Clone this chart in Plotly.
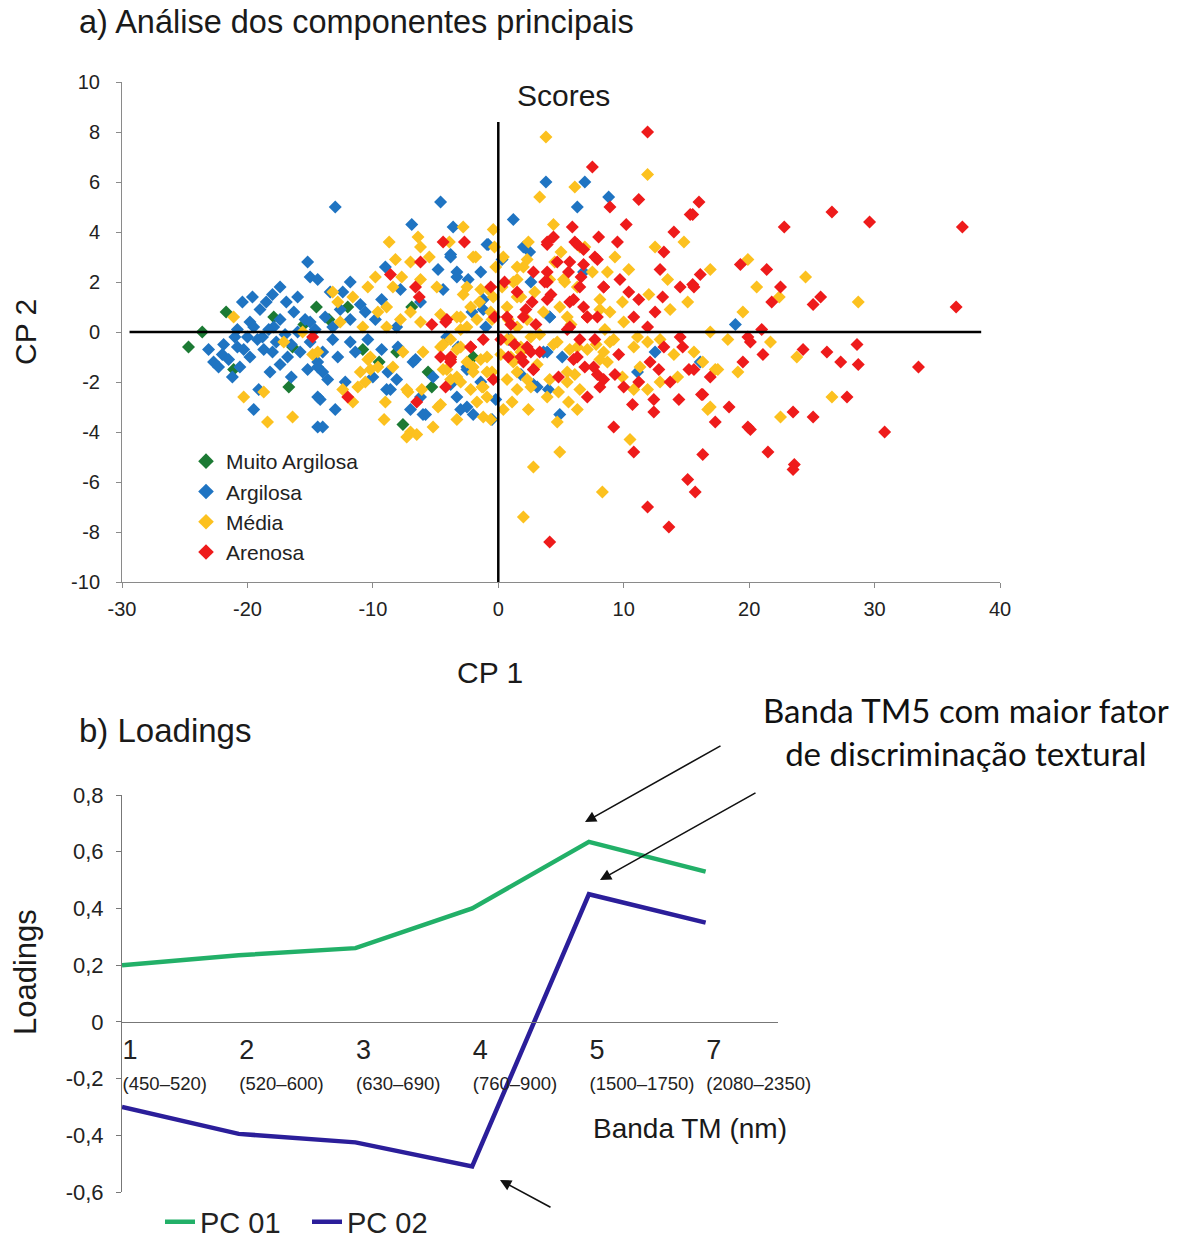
import plotly.graph_objects as go

W, H = 1186, 1239
def px(x): return x / W
def py(y): return 1 - y / H

# ---------------- data: scores ----------------
muito_x = [-24.7, -23.6, -21.7, -21.1, -17.9, -16.7, -16.4, -14.5, -12.0, -10.8, -8.1, -6.9, -7.6, -5.6, -5.3, -13.5, -9.5, -2.0, -15.5]
muito_y = [-0.6, 0.0, 0.8, -1.5, 0.6, -2.2, -0.6, 1.0, 1.0, -0.7, -0.8, 1.0, -3.7, -1.6, -2.2, 0.5, -1.2, -1.0, 0.3]

arg_x = [-13.0, -4.6, -6.9, 1.2, 3.8, 6.9, 8.8, 6.3, 2.5, 4.1, 18.9, 4.9, 2.8, 4.0, 5.1, 3.6, 11.1, 16.1, 12.5, 1.8,
         -15.2, -15.0, -17.4, -20.4, -19.0, -19.8, -16.3, -17.4, -15.4, -17.9, -21.9, -23.1, -22.7, -22.3, -21.0, -20.3,
         -19.2, -18.7, -19.8, -18.0, -17.4, -15.2, -14.4, -16.8, -14.4, -19.5, -19.1, -14.4,
         -3.8, -4.8, -3.3, -0.9, -14.4, -11.8, -12.4, -13.4, -9.0, -11.0, -10.6, -11.8, -13.8, -13.2, -15.0, -8.1, -9.3,
         -7.8, -6.2, -2.4, -1.2, -2.1, -4.1, -3.2, -13.2, -11.8, -11.4, -14.0, -12.8, -9.3, -8.0, -14.4, -14.0, -13.6,
         -8.8, -6.8, -8.9, -5.2, -3.8, -2.5, -3.3, -2.5, -2.0, -6.2, -5.8, -7.0, -0.5, -14.2, -13.0, -14.0,
         -3.0, -6.6, -6.0, -8.6, -8.1, -16.0, -18.5, -20.8, -12.2, -10.0, -16.5, -18.2, -1.0, 0.8, -0.2, -3.6, 0.3,
         -3.8, -0.8, -1.4, -3.3, -4.4, -1.2, 4.1, 2.6, 6.8, 2.0, -4.1, 3.9, -2.5, -1.4, 3.1,
         -22.0, -21.5, -20.8, -20.0, -19.5, -18.8, -18.3, -17.7, -17.0, -16.5, -16.0, -15.8, -15.0, -14.6,
         -16.9, -18.0, -19.6, -20.6, -21.2, -12.6, -10.4, -9.8]
arg_y = [5.0, 5.2, 4.3, 4.5, 6.0, 6.0, 5.4, 5.0, 3.2, 0.6, 0.3, -3.3, -2.1, -2.3, -1.0, -0.8, -1.6, -1.2, -0.8, -1.7,
         2.8, 2.2, 1.8, 1.2, 0.9, 0.4, 0.8, 0.5, 0.5, 0.2, -0.5, -0.7, -1.2, -1.4, -0.2, -0.7,
         -0.3, -0.7, -1.0, -0.8, -1.3, -1.5, -1.2, -1.0, -2.6, -3.1, -2.3, -3.8,
         3.0, 2.5, 2.2, 3.5, 2.1, 2.0, 1.6, 1.6, 2.6, 1.1, 0.8, 0.5, 0.6, 0.2, 0.4, 0.2, 1.3,
         1.7, 1.2, 2.1, 1.3, 0.8, -0.2, -0.6, -0.3, -0.4, -0.8, -0.8, -1.0, -0.7, -0.6, -1.4, -1.6, -1.9,
         -1.6, -1.2, -2.3, -1.8, -2.1, -1.4, -2.6, -3.0, -3.3, -2.6, -3.3, -3.1, -3.5, -2.7, -3.1, -3.8,
         -3.1, -1.1, -3.3, -2.3, -1.9, 1.4, 1.2, 0.1, -2.0, -1.8, -1.8, -1.6, 0.2, -0.3, -2.7, 4.2, 2.9,
         3.1, 3.5, 2.4, 2.4, 1.7, 0.9, 0.6, 2.0, 2.4, 3.4, -0.2, -0.8, -1.5, -2.0, -2.2,
         -0.9, -1.1, -0.6, -0.2, 0.2, -0.2, 0.1, -0.4, -0.1, -0.5, 0.0, -0.8, -0.4, 0.1,
         1.2, 1.5, 1.4, -1.4, -1.8, 0.9, -0.3, 0.5]

media_x = [3.8, 11.9, 3.3, 6.1, 4.4, 12.5, 14.8, 9.3, 10.4, 6.9, 5.3, 15.1, 13.7, 2.0, 0.4, 1.2, 4.1, 6.3, 8.1, 9.9,
           4.9, 7.1, 8.9, 0.7, 2.3, 1.8, 0.8, 11.1, 12.9, 8.9, 4.4, 6.3, 1.8, 3.3,
           19.9, 16.9, 20.6, 24.5, 28.7, 22.4, 19.5, 16.9, 18.3, 21.7, 23.8, 16.3, 17.3, 19.1, 26.6, 16.9, 22.5,
           0.4, 2.4, 4.7, 4.9, 2.8, 8.3, 2.0, 10.5, 16.7, 6.3, 5.6, 6.5, 4.8, 3.9, 5.5, 6.1, 8.7, 9.9, 10.8, 11.9,
           12.9, 14.3, 15.6, 17.5, 1.2, 1.5, 0.7, 2.3, 1.8, 1.0, 2.6, 5.7, 9.2, 10.8, 11.9, 14.0, 8.1, 11.3,
           -21.1, -17.1, -14.8, -15.6, -20.3, -18.7, -18.4, -16.4,
           -2.8, -8.7, -6.4, -6.2, -0.4, -1.8, -8.2, -7.0, -7.7, -9.8, -10.4, -8.4, -6.2, -4.9, -2.8, -0.8, -0.2,
           -13.2, -12.8, -11.6, -9.6, -8.9, -7.0, -7.8, -6.2, -4.6, -3.3, -1.7, -0.5, -12.6, -10.8, -8.9, -2.5,
           -14.4, -10.2, -9.6, -7.6, -8.4, -4.6, -3.8, -4.4, -3.3, -2.0, -0.9, -0.5, -1.2, -2.2, -11.0, -10.6,
           -12.4, -11.6, -7.2, -4.8, -3.3, -7.0, -5.2, -1.2,
           -11.2, -7.3, -9.0, -6.1, -7.3, -6.5, -4.6, -0.6, -10.4, -10.2, -6.0, -4.4, -3.3, -2.5, -2.0, -1.3,
           -0.9, -1.7, -4.1, -3.0,
           0.3, 1.5, 2.9, 3.6, 4.5, 5.8, 7.5, 8.5, 0.2, 1.1, 3.1, -1.5, -0.3, 5.0, 7.8, 10.0, 12.0, 13.5, 2.4,
           -5.5, -3.9, -9.1,
           -2.0, -2.5, -1.4, -2.2, -3.0, -0.6, -0.4, 1.5, 1.5, 2.3, 5.2, 5.5, 8.1, 8.7, 6.5, 1.5, -3.8, -3.0,
           -1.4, -0.9, -3.8, 1.0, 1.5, 4.7, 4.1, 5.5, 7.1, 8.4, 2.6, 0.7, -3.0]
media_y = [7.8, 6.3, 5.4, 5.8, 4.3, 3.4, 3.6, 3.0, 2.5, 3.4, 2.0, 1.2, 0.9, 2.6, 3.0, 2.0, 2.1, 1.8, 1.3, 1.2,
           1.0, 0.6, 0.8, 1.0, 0.5, 1.4, 0.5, -0.2, -0.3, -0.4, -0.5, -0.6, -0.6, -0.1,
           2.9, 2.5, 1.8, 2.2, 1.2, 1.4, 0.8, 0.0, -0.3, -0.4, -1.0, -1.2, -1.5, -1.6, -2.6, -3.0, -3.4,
           -3.1, -3.1, -3.6, -4.8, -5.4, -6.4, -7.4, -4.3, -3.1, -3.1, -2.8, -2.3, -2.4, -2.6, -2.0, -1.7, -1.2, -1.8, -2.3, -2.3,
           -2.0, -1.8, -0.8, -1.5, -1.2, -2.3, -1.9, -1.9, -0.8, -0.3, -0.2, -0.7, -0.3, -0.6, -0.4, -0.9, -1.1, -1.4,
           0.6, -0.4, -0.9, 0.0, -2.6, -2.4, -3.6, -3.4,
           4.2, 3.6, 3.8, 3.4, 4.1, 3.0, 2.9, 2.8, 2.2, 2.2, 1.8, 1.8, 2.1, 1.8, 1.5, 1.7, 2.6,
           1.6, 1.2, 1.4, 0.8, 1.0, 0.8, 0.5, 0.4, 0.7, 0.6, 0.5, 0.5, 0.4, 0.2, 0.2, 0.2,
           -0.8, -1.0, -1.4, -0.8, -1.4, -0.6, -1.0, -1.5, -1.8, -1.4, -1.0, -1.6, -2.2, -2.3, -1.6, -2.0,
           -2.3, -2.8, -2.4, -3.0, -3.5, -4.0, -3.8, -3.4,
           -2.2, -2.3, -2.8, -2.3, -4.2, -4.1, -2.9, -3.5, -1.1, -1.5, -0.8, -0.5, -0.7, -1.2, -1.6, -2.2,
           -2.6, -2.8, -1.5, -2.0,
           1.8, 0.2, 1.6, 0.8, 2.8, 0.3, 2.4, 0.1, -0.9, -2.8, -1.3, 1.2, 3.4, 3.2, -0.5, 0.4, 1.5, 2.1, 3.6,
           3.0, 3.6, -3.5,
           3.0, 1.8, 1.7, 1.0, 0.6, 0.8, 1.4, 2.6, 2.1, 2.9, 2.1, 0.6, 0.9, 2.4, 3.4, 1.4, -0.3, -0.6,
           -1.1, -1.6, -1.9, -1.0, -1.6, -0.4, -1.9, -1.6, -0.7, -0.8, -2.2, -0.3, 0.1]

aren_x = [11.9, 7.5, 11.2, 8.9, 10.2, 15.3, 5.9, 14.0, 3.9, 6.1, 4.4, 6.8, 7.7, 13.2, 12.9, 4.7, 5.7, 9.7, 14.5, 15.5,
          2.8, 3.9, 8.4, 11.2, 13.1, 2.7, 5.7, 7.1, 10.8, 12.5, 5.5, 7.7, 2.0, 3.3,
          16.0, 15.5, 22.8, 26.6, 29.6, 16.1, 15.6, 19.3, 21.4, 22.5, 21.8, 25.1, 25.7, 21.0, 20.1, 24.3, 26.2, 28.6,
          27.3, 28.7, 21.1, 19.5, 16.9, 15.6, 16.3, 27.8, 18.4,
          37.0, 36.5, 33.5, 30.8,
          23.5, 25.1, 20.1, 21.5, 23.6, 23.5,
          9.2, 10.8, 16.3, 15.1, 15.7, 11.9, 13.6, 4.1, 17.3, 19.9, 14.4, 16.2, 12.4, 12.4, 10.7, 7.1, 8.1, 9.3, 10.0,
          11.2, 13.7, 15.2, 7.9, 12.1, 12.8, 2.8, 6.3, 11.9, 13.2, 14.7, 14.5, 19.9, 5.7, 2.6,
          -4.4, -2.7, -6.2, -8.6, -6.6, -6.3, -5.3, -4.2, -0.6, -14.8, -12.0, -6.5, -4.2, -3.8, -2.2, -0.4, -4.6, -3.8,
          0.5, 1.0, 0.2, 1.5, 0.8, 2.2, -0.3, 1.3, 3.0, 2.0, 4.2, 6.6, 8.0, 9.5, 4.8, 6.9, 9.6, 10.4,
          3.9, 6.3, 6.8, 7.9, 3.9, 5.6, 3.7, 3.9, 6.0, 6.8, 8.4, 6.5, 7.1, 7.9, -4.1, 0.7, 2.3, 1.8, 2.8,
          6.0, 7.6, 6.5, 8.4, -3.8, -2.2, -1.2]
aren_y = [8.0, 6.6, 5.3, 5.0, 4.3, 4.7, 4.2, 4.0, 3.6, 3.6, 3.8, 3.3, 3.0, 3.2, 2.5, 2.8, 2.8, 2.1, 1.8, 1.9,
          2.4, 2.0, 1.8, 1.3, 1.4, 1.2, 1.2, 0.6, 0.6, 0.8, 0.1, -0.3, 0.6, -0.8,
          5.2, 4.7, 4.2, 4.8, 4.4, 2.3, 1.8, 2.7, 2.5, 1.8, 1.2, 1.1, 1.4, 0.1, -0.4, -0.7, -0.8, -0.5,
          -1.2, -1.3, -0.9, -1.2, -1.8, -1.5, -2.5, -2.6, -3.0,
          4.2, 1.0, -1.4, -4.0,
          -3.2, -3.4, -3.9, -4.8, -5.3, -5.5,
          -3.8, -4.8, -4.9, -5.9, -6.4, -7.0, -7.8, -8.4, -3.6, -3.8, -2.7, -2.5, -2.7, -3.2, -2.9, -2.6, -2.2, -1.7, -2.2,
          -2.0, -2.0, -1.5, -1.7, -1.2, -1.5, -1.5, -1.0, 0.2, -0.6, -0.6, -0.2, -0.2, 0.2, -0.8,
          3.6, 3.6, 2.8, 2.3, 1.8, 1.4, 0.3, 0.4, 1.8, -0.2, -2.6, -2.8, -2.2, -1.0, -0.6, -1.9, -1.0, -1.2,
          2.0, 0.3, -0.3, 1.6, -1.0, 0.9, 0.6, -0.5, 0.3, -1.2, 1.5, 2.2, 3.8, 3.6, -1.8, -1.4, -0.9, 1.6,
          3.5, 3.5, 2.7, 2.9, 2.4, 2.4, 2.0, 1.3, 1.3, 1.0, 1.8, 1.8, 0.6, 0.6, 0.5, 0.6, -0.6, -1.0, -1.5,
          -1.1, -1.4, -0.3, -1.9, -1.1, -0.6, -0.3]

score_xticks = [-30, -20, -10, 0, 10, 20, 30, 40]
score_xtext = ["-30", "-20", "-10", "0", "10", "20", "30", "40"]
score_yticks = [-10, -8, -6, -4, -2, 0, 2, 4, 6, 8, 10]
score_ytext = ["-10", "-8", "-6", "-4", "-2", "0", "2", "4", "6", "8", "10"]

# ---------------- data: loadings ----------------
bands = ["1", "2", "3", "4", "5", "7"]
band_ranges = ["(450–520)", "(520–600)", "(630–690)", "(760–900)", "(1500–1750)", "(2080–2350)"]
pc01 = [0.20, 0.235, 0.26, 0.40, 0.635, 0.53]
pc02 = [-0.30, -0.395, -0.425, -0.51, 0.45, 0.35]
load_yticks = [-0.6, -0.4, -0.2, 0, 0.2, 0.4, 0.6, 0.8]
load_ytext = ["-0,6", "-0,4", "-0,2", "0", "0,2", "0,4", "0,6", "0,8"]

FONT = "Liberation Sans, Arial, sans-serif"
TXT = "#1a1a1a"
fig = go.Figure()

series = [("Muito Argilosa", muito_x, muito_y, "#1c7a34"),
          ("Argilosa", arg_x, arg_y, "#1f74c2"),
          ("Média", media_x, media_y, "#fcc11f"),
          ("Arenosa", aren_x, aren_y, "#ee1b1b")]
for name, xs, ys, col in series:
    fig.add_trace(go.Scatter(x=xs, y=ys, mode="markers", name=name,
                             marker=dict(symbol="diamond", size=10, color=col, line=dict(width=0)),
                             xaxis="x", yaxis="y", legend="legend"))

idx = list(range(len(bands)))
fig.add_trace(go.Scatter(x=idx, y=pc01, mode="lines", name="PC 01",
                         line=dict(color="#22b068", width=4.5), xaxis="x2", yaxis="y2", legend="legend2"))
fig.add_trace(go.Scatter(x=idx, y=pc02, mode="lines", name="PC 02",
                         line=dict(color="#2b1e9a", width=4.5), xaxis="x2", yaxis="y2", legend="legend2"))

band_text = [f"<span style='font-size:27px'>{b}</span><br><span style='font-size:18.5px'>{r}</span>"
             for b, r in zip(bands, band_ranges)]

y2_dom = [py(1192), py(795)]
zero_pos = y2_dom[0] + (0 - (-0.6)) / 1.4 * (y2_dom[1] - y2_dom[0])

fig.update_layout(
    width=W, height=H, margin=dict(l=0, r=0, t=0, b=0, autoexpand=False),
    paper_bgcolor="white", plot_bgcolor="white",
    font=dict(family=FONT, color=TXT),
    xaxis=dict(domain=[px(122), px(1000)], range=[-30, 40], tickvals=score_xticks, ticktext=score_xtext,
               showline=True, linecolor="#8a8a8a", linewidth=1, ticks="outside", ticklen=5, tickcolor="#8a8a8a",
               showgrid=False, zeroline=False, tickfont=dict(size=20, color="#222"), anchor="y",
               automargin=False, ticklabelstandoff=4),
    yaxis=dict(domain=[py(582), py(82)], range=[-10, 10], tickvals=score_yticks, ticktext=score_ytext,
               showline=True, linecolor="#8a8a8a", linewidth=1, ticks="outside", ticklen=5, tickcolor="#8a8a8a",
               showgrid=False, zeroline=False, tickfont=dict(size=20, color="#222"), anchor="x",
               ticklabelstandoff=12, automargin=False),
    xaxis2=dict(domain=[px(122), px(778)], range=[0, 5.62], tickvals=idx, ticktext=band_text,
                showline=True, linecolor="#777", linewidth=1.2, ticks="", showgrid=False, zeroline=False,
                anchor="free", position=zero_pos, ticklabelposition="outside right",
                tickfont=dict(size=24, color="#222"), ticklabelstandoff=7, automargin=False),
    yaxis2=dict(domain=y2_dom, range=[-0.6, 0.8], tickvals=load_yticks, ticktext=load_ytext,
                showline=True, linecolor="#777", linewidth=1, ticks="outside", ticklen=5, tickcolor="#777",
                showgrid=False, zeroline=False, tickfont=dict(size=22, color="#222"), anchor="x2",
                ticklabelstandoff=8, automargin=False),
    legend=dict(x=px(186), y=py(441), xanchor="left", yanchor="top", font=dict(size=21, color="#222"),
                bgcolor="rgba(0,0,0,0)", tracegroupgap=0, itemsizing="constant"),
    legend2=dict(x=px(160), y=py(1222), xanchor="left", yanchor="middle", orientation="h",
                 font=dict(size=29, color="#222"), bgcolor="rgba(0,0,0,0)",
                 entrywidth=102, entrywidthmode="pixels"),
    shapes=[
        dict(type="line", xref="x", yref="y", x0=-29.4, x1=38.5, y0=0, y1=0, line=dict(color="black", width=2.5)),
        dict(type="line", xref="x", yref="y", x0=0, x1=0, y0=8.4, y1=-10, line=dict(color="black", width=2.5)),
    ],
)

ann = [
    dict(text="a) Análise dos componentes principais", x=px(77), y=py(22), xanchor="left", yanchor="middle", font=dict(size=32.5)),
    dict(text="Scores", x=px(563), y=py(95), xanchor="center", yanchor="middle", font=dict(size=30)),
    dict(text="CP 2", x=px(25), y=py(332), xanchor="center", yanchor="middle", textangle=-90, font=dict(size=30)),
    dict(text="CP 1", x=px(490), y=py(672), xanchor="center", yanchor="middle", font=dict(size=30)),
    dict(text="b) Loadings", x=px(77), y=py(730), xanchor="left", yanchor="middle", font=dict(size=33)),
    dict(text="Loadings", x=px(25), y=py(972), xanchor="center", yanchor="middle", textangle=-90, font=dict(size=31)),
    dict(text="Banda TM (nm)", x=px(690), y=py(1128), xanchor="center", yanchor="middle", font=dict(size=28)),
    dict(text="Banda TM5 com maior fator<br>de discriminação textural", x=px(966), y=py(731), xanchor="center",
         yanchor="middle", align="center", font=dict(size=33, family="Lato, Carlito, sans-serif", color="#111")),
]
for a in ann:
    a.update(xref="paper", yref="paper", showarrow=False)
    fig.add_annotation(**a)

arrows = [((585, 822), (722, 745)), ((600, 880), (757, 792)), ((500, 1180), (552, 1208))]
for (hx, hy), (tx, ty) in arrows:
    fig.add_annotation(xref="paper", yref="paper", x=px(hx), y=py(hy), ax=tx - hx, ay=ty - hy,
                       text="", showarrow=True, arrowhead=2, arrowsize=1.4, arrowwidth=1.6, arrowcolor="#111")

fig.write_html("out.html")
